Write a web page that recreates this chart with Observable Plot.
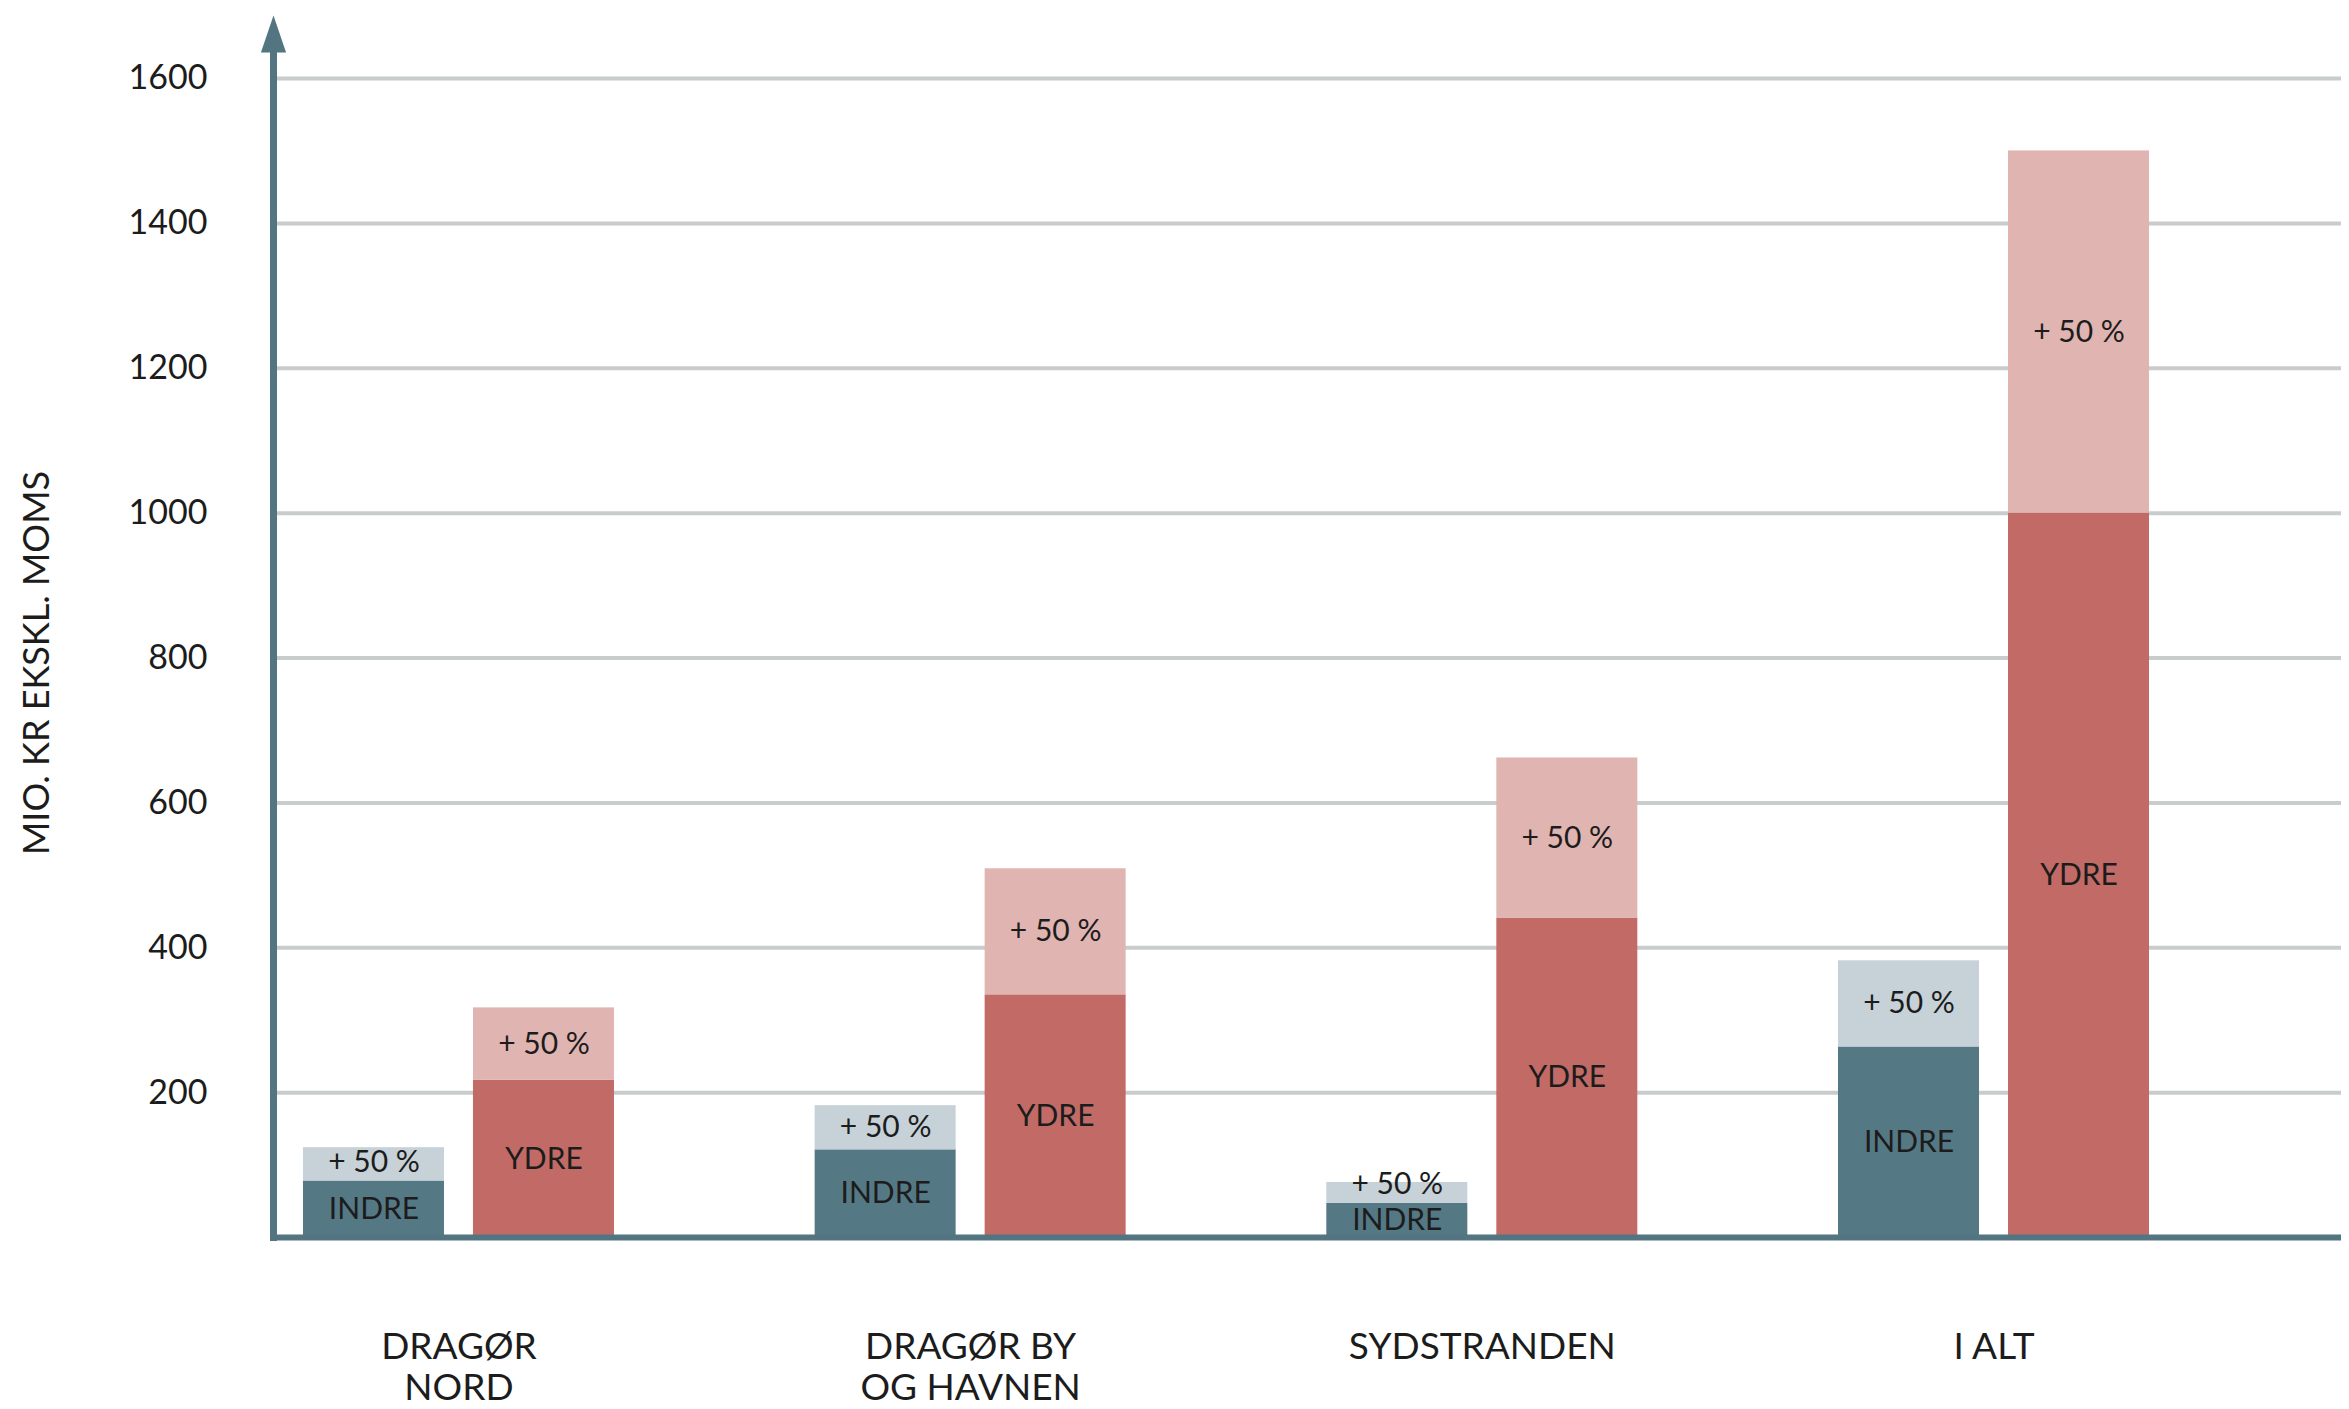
<!DOCTYPE html>
<html>
<head>
<meta charset="utf-8">
<script src="https://cdn.jsdelivr.net/npm/d3@7"></script>
<script src="https://cdn.jsdelivr.net/npm/@observablehq/plot@0.6"></script>
<style>
  html, body { margin: 0; padding: 0; background: #ffffff; }
  #chart svg { display: block; }
</style>
</head>
<body>
<div id="chart"></div>
<script>
// ---- Data ----
const categories = ["DRAGØR\nNORD", "DRAGØR BY\nOG HAVNEN", "SYDSTRANDEN", "I ALT"];
const indre      = [78, 121, 47, 263];     // INDRE base
const indrePlus  = [46, 61, 29, 119];      // INDRE "+ 50 %" increment
const ydre       = [217, 335, 441, 1000];  // YDRE base
const ydrePlus   = [100, 174, 221, 500];   // YDRE "+ 50 %" increment
const yTicks     = [200, 400, 600, 800, 1000, 1200, 1400, 1600];
const plusLabel  = "+ 50 %";
const yTitle     = "MIO. KR EKSKL. MOMS";

// ---- Styling ----
const axisColor = "#537581";
const gridColor = "#c8cccc";
const textColor = "#1c1c1c";
const colorDomain = ["INDRE base", "INDRE plus", "YDRE base", "YDRE plus"];
const colorRange  = ["#557885", "#c6d2d7", "#c26b66", "#e0b4b1"];

// ---- Table built from the arrays ----
const rows = [];
categories.forEach((c, i) => {
  rows.push({cat: c, series: "INDRE", part: "base", value: indre[i], base: 0});
  rows.push({cat: c, series: "INDRE", part: "plus", value: indrePlus[i], base: indre[i]});
  rows.push({cat: c, series: "YDRE",  part: "base", value: ydre[i], base: 0});
  rows.push({cat: c, series: "YDRE",  part: "plus", value: ydrePlus[i], base: ydre[i]});
});
const indreRows = rows.filter(d => d.series === "INDRE");
const ydreRows  = rows.filter(d => d.series === "YDRE");

const W = 2349, H = 1409;
const barInset = 170;   // splits each category band into an INDRE and a YDRE bar
const labelShift = 85;
const minHalf = 26;     // keeps a label clear of the one below in very thin segments

const arrowHead = {
  draw(ctx, size) {
    const r = Math.sqrt(size / Math.PI);
    ctx.moveTo(0, -r);
    ctx.lineTo(0.68 * r, r);
    ctx.lineTo(-0.68 * r, r);
    ctx.closePath();
  }
};

const labelText = d => d.part === "base" ? d.series : plusLabel;
const labelY = d => d.part === "base" ? d.value / 2 : d.base + Math.max(d.value / 2, minHalf);

const chart = Plot.plot({
  width: W,
  height: H,
  marginLeft: 273,
  marginRight: 8,
  marginTop: 78,
  marginBottom: 172,
  style: {fontFamily: "Lato, 'Open Sans', sans-serif", color: textColor, background: "#ffffff"},
  x: {type: "band", domain: categories, paddingInner: 0.3922, paddingOuter: 0.2169, align: 0.135, round: false, axis: null},
  y: {domain: [0, 1600], axis: null},
  color: {domain: colorDomain, range: colorRange},
  marks: [
    // gridlines
    Plot.ruleY(yTicks, {stroke: gridColor, strokeWidth: 4}),
    // bars
    Plot.barY(indreRows, Plot.stackY({x: "cat", y: "value", fill: d => d.series + " " + d.part, insetRight: barInset})),
    Plot.barY(ydreRows,  Plot.stackY({x: "cat", y: "value", fill: d => d.series + " " + d.part, insetLeft: barInset})),
    // bar labels
    Plot.text(indreRows, {x: "cat", y: labelY, text: labelText, dx: -labelShift, fontSize: 30}),
    Plot.text(ydreRows,  {x: "cat", y: labelY, text: labelText, dx: labelShift, fontSize: 30}),
    // x axis line
    Plot.ruleY([0], {stroke: axisColor, strokeWidth: 6}),
    // y axis line with arrow
    Plot.frame({anchor: "left", stroke: axisColor, strokeWidth: 7, insetTop: -26}),
    Plot.dot([yTicks[yTicks.length - 1]], {y: d => d, frameAnchor: "left", symbol: arrowHead, r: 18.5, fill: axisColor, stroke: null, dy: -44.5}),
    // y tick labels
    Plot.axisY({ticks: yTicks, tickFormat: d => String(d), tickSize: 0, tickPadding: 66, fontSize: 34, label: null}),
    // y title
    Plot.text([yTitle], {text: d => d, frameAnchor: "left", textAnchor: "middle", rotate: -90, dx: -236, dy: 5, fontSize: 36}),
    // category labels
    Plot.text(categories, {x: d => d, text: d => d, frameAnchor: "bottom", lineAnchor: "top", dy: 92, fontSize: 37, lineHeight: 1.12})
  ]
});

document.getElementById("chart").appendChild(chart);
</script>
</body>
</html>
